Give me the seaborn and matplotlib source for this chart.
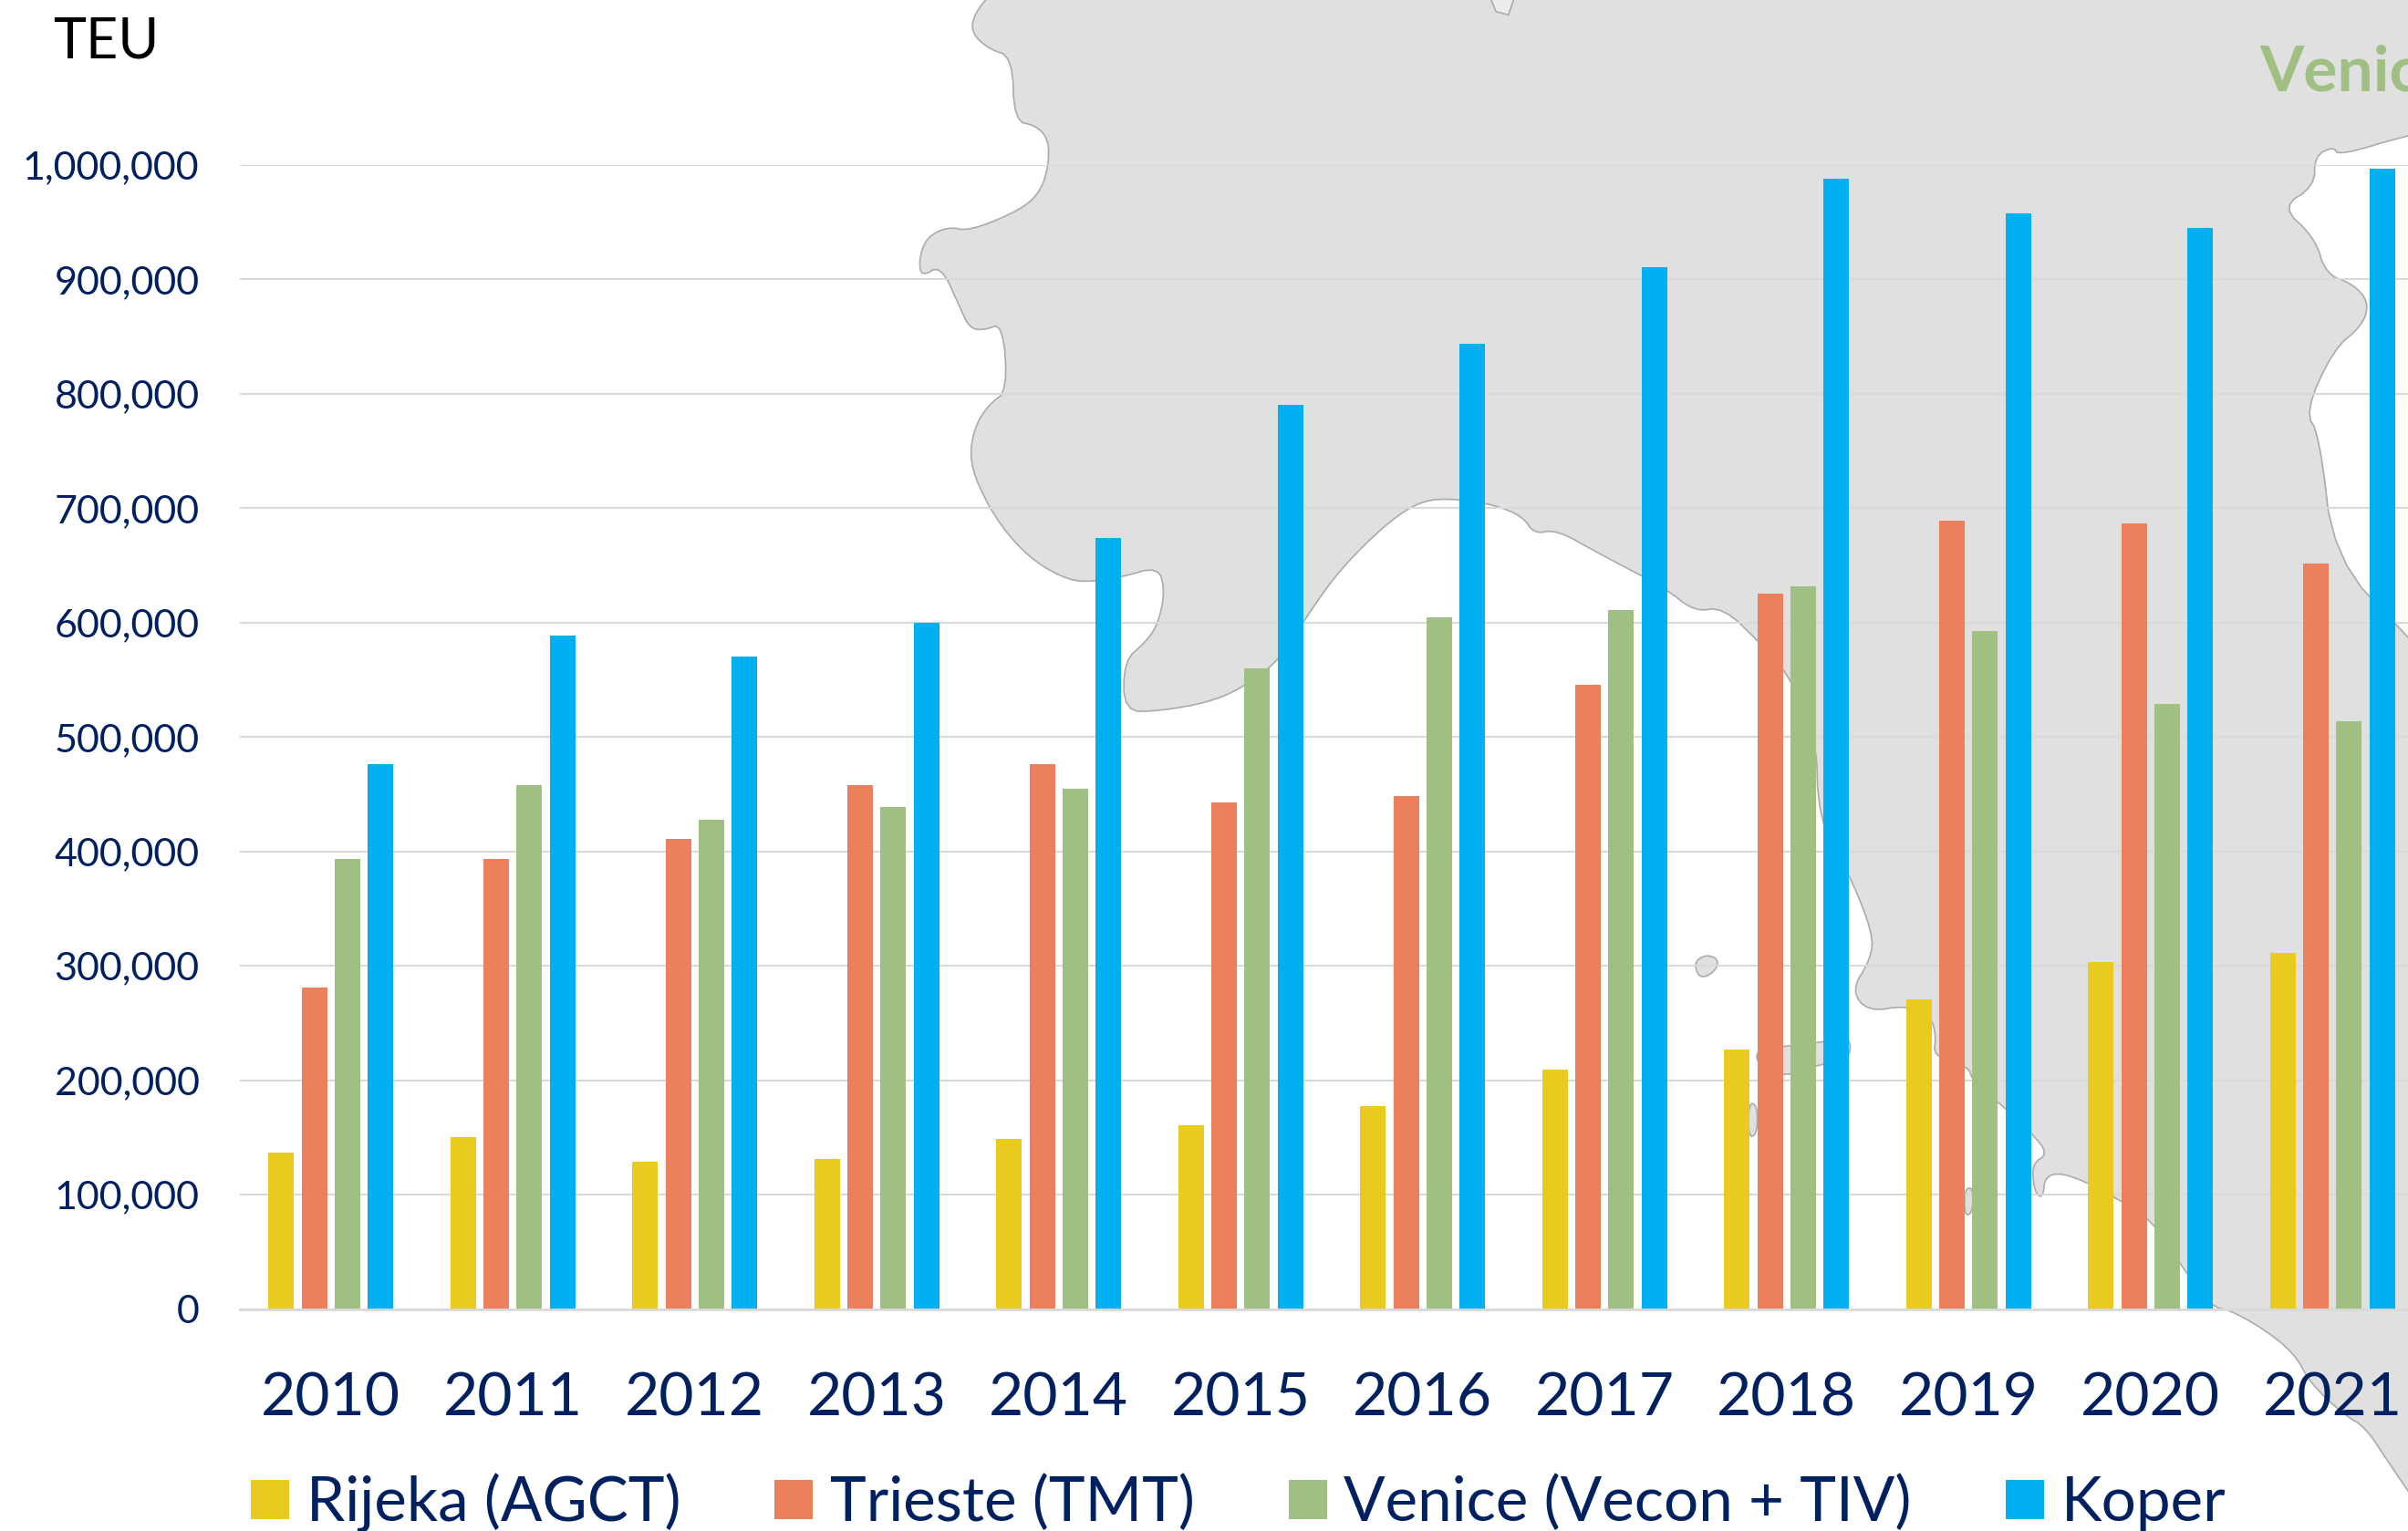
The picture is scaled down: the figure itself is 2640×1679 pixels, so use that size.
import pandas as pd
import matplotlib.pyplot as plt
from matplotlib.patches import Polygon
import seaborn as sns

years = ['2010', '2011', '2012', '2013', '2014', '2015', '2016', '2017', '2018', '2019', '2020', '2021']
rijeka = [137000, 150000, 129000, 131000, 149000, 161000, 177000, 209000, 227000, 271000, 303000, 311000]
trieste = [281000, 393000, 411000, 458000, 476000, 443000, 448000, 546000, 625000, 689000, 687000, 652000]
venice = [393000, 458000, 428000, 439000, 455000, 560000, 605000, 611000, 632000, 593000, 529000, 514000]
koper = [476500, 589000, 570000, 600000, 674000, 790000, 844000, 911000, 988000, 958000, 945000, 997000]
series_names = ['Rijeka (AGCT)', 'Trieste (TMT)', 'Venice (Vecon + TIV)', 'Koper']
colors = ['#E9CB1F', '#EC805E', '#A0BF82', '#00B0F0']
y_ticks = [0, 100000, 200000, 300000, 400000, 500000, 600000, 700000, 800000, 900000, 1000000]

W, H = 2640, 1679
navy = '#002060'

# coast outline of the background map, traced in crops of the picture
zoom_a = [(85,-20),(65,30),(62,70),(80,105),(105,122),(107,260),(130,270),(143,300),(143,355),(135,410),
          (115,450),(60,497),(38,487),(15,510),(7,560),(10,595),(30,570),(50,660),(60,705),(75,710),
          (95,695),(100,840),(80,870),(65,920),(60,990),(75,1070),(100,1150),(130,1210),(165,1248),
          (190,1250),(220,1240),(258,1218),(265,1270),(258,1340),(245,1380),(222,1420),(222,1530),
          (260,1528),(310,1510),(345,1480),(385,1420),(415,1320),(450,1220),(500,1120),(535,1075),
          (570,1072),(610,1085),(640,1110),(652,1148),(675,1138),(720,1190),(790,1265),(820,1315),
          (850,1305),(890,1385),(915,1440)]
zoom_b = [(485,0),(490,180),(545,280),(590,400),(585,450),(550,510),(580,552),(650,540),(695,560),
          (705,600),(700,640),(765,660),(770,685),(830,740),(880,790),(910,830),(880,850),(885,905),
          (900,918),(905,870),(950,870),(1040,920),(1100,960),(1160,1060),(1210,1130),(1240,1135),
          (1300,1170),(1360,1220),(1390,1280),(1450,1340),(1490,1365),(1530,1430),(1600,1540),(1680,1666)]
# the last points of this one lie outside the picture so the corner cutting stays out of sight
zoom_c = [(1700,1658),(1568,1370),(1490,1200),(1475,935),(1460,885),(1490,750),(1520,700),(1527,650),(1510,610),
          (1482,590),(1470,510),(1435,445),(1470,400),(1470,335),(1490,315),(1495,335),(1568,290),(1700,230),(1900,-600)]
coast = [(1000+x/0.956, y/1.96) for x, y in zoom_a]
coast += [(1700+x/1.668, 800+y/1.784) for x, y in zoom_b]
coast += [(1000+x/0.956, y/1.96) for x, y in zoom_c]
islands_b = [[(262,455),(285,440),(308,450),(300,475),(272,488)],
             [(375,625),(430,620),(495,612),(550,600),(545,650),(490,655),(430,680),(380,660)],
             [(362,730),(378,735),(378,790),(362,800)],
             [(757,900),(772,895),(772,945),(757,952)]]
lake_a = [(605,-10),(632,-10),(625,32),(612,25)]


# corner cutting, the real coast has no sharp corners
def smooth(pts, n=2):
    for _ in range(n):
        new = []
        for i in range(len(pts)):
            x0, y0 = pts[i]
            x1, y1 = pts[(i+1) % len(pts)]
            new.append((0.75*x0+0.25*x1, 0.75*y0+0.25*y1))
            new.append((0.25*x0+0.75*x1, 0.25*y0+0.75*y1))
        pts = new
    return pts


df = pd.DataFrame({'year': years, series_names[0]: rijeka, series_names[1]: trieste,
                   series_names[2]: venice, series_names[3]: koper})
df = df.melt(id_vars='year', var_name='port', value_name='teu')

plt.rcParams['font.family'] = ['Lato', 'DejaVu Sans']
fig = plt.figure(figsize=(W/100, H/100), dpi=100)

# map goes in its own axes behind the chart, in pixel coordinates
bg = fig.add_axes([0, 0, 1, 1], zorder=0)
bg.set_xlim(0, W)
bg.set_ylim(H, 0)
bg.axis('off')
bg.add_patch(Polygon(smooth(coast), closed=True, fc='#E0E0E0', ec='#ABABAB', lw=1.2))
for isl in islands_b:
    bg.add_patch(Polygon(smooth([(1700+x/1.668, 800+y/1.784) for x, y in isl]), closed=True,
                         fc='#E0E0E0', ec='#ABABAB', lw=1.2))
bg.add_patch(Polygon([(1000+x/0.956, y/1.96) for x, y in lake_a], closed=True, fc='#EDEDED', ec='#ABABAB', lw=1.2))

# the last category runs slightly past the right edge of the picture
ax = fig.add_axes([263/W, (H-1435.5)/H, (2657-263)/W, (1435.5-181)/H], zorder=1)
ax.patch.set_alpha(0)
sns.barplot(data=df, x='year', y='teu', hue='port', hue_order=series_names, palette=colors,
            saturation=1, width=0.728, gap=0.23, ax=ax)
ax.set_xlim(-0.5, 11.5)
ax.set_ylim(0, 1000000)
ax.set_xlabel('')
ax.set_ylabel('')
ax.set_yticks(y_ticks)
ax.set_yticklabels(['{:,}'.format(v) for v in y_ticks])
ax.set_axisbelow(True)
ax.grid(axis='y', color='#D9D9D9', lw=1.5)
ax.grid(axis='x', visible=False)
for s in ['left', 'right', 'top']:
    ax.spines[s].set_visible(False)
ax.spines['bottom'].set_color('#D9D9D9')
ax.spines['bottom'].set_linewidth(2)
ax.tick_params(axis='y', length=0, pad=32, labelsize=31, labelcolor=navy)
ax.tick_params(axis='x', length=0, pad=50, labelsize=47.5, labelcolor=navy)

handles, labels = ax.get_legend_handles_labels()
ax.get_legend().remove()
fig.legend(handles, labels, ncol=4, frameon=False, fontsize=48.5, labelcolor=navy,
           loc='lower left', bbox_to_anchor=(275/W, -0.001), borderpad=0, borderaxespad=0,
           handlelength=0.62, handleheight=0.61, handletextpad=0.28, columnspacing=1.53)

fig.text(58/W, 1-46/H, 'TEU', fontsize=44, color='black', va='center', ha='left')
fig.text(2477/W, 1-80/H, 'Venice', fontsize=50, color='#A0BF82', fontweight='bold', va='center', ha='left')

fig.savefig('out.png', dpi=100)
